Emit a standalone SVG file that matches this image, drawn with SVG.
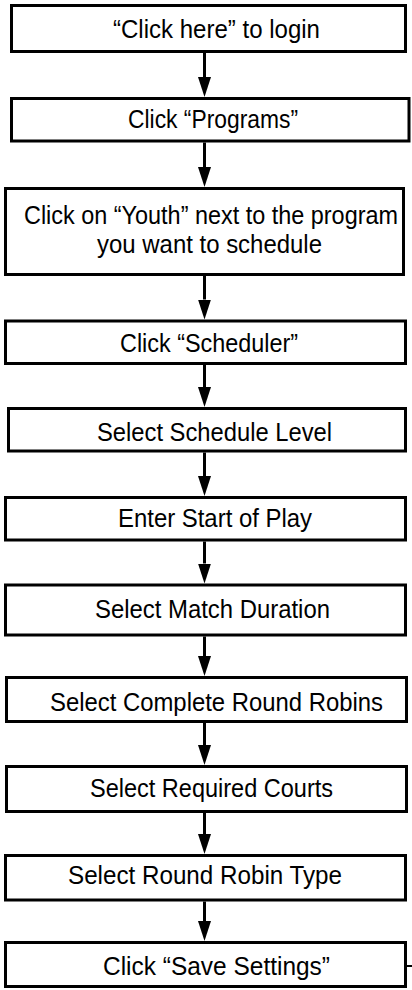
<svg xmlns="http://www.w3.org/2000/svg" width="412" height="990" viewBox="0 0 412 990">
  <defs>
    <style>
      .box { fill: #ffffff; stroke: #000000; stroke-width: 3; }
      .lbl { font-family: "Liberation Sans", Arial, sans-serif; font-size: 26px; fill: #000000; text-anchor: start; }
      .sm { font-size: 25px; }
      .conn { stroke: #000000; stroke-width: 3; fill: none; marker-end: url(#arrow); }
    </style>
    <marker id="arrow" markerUnits="userSpaceOnUse" markerWidth="20" markerHeight="13" refX="0" refY="6.5" orient="auto">
      <path d="M0,0 L20,6.5 L0,13 Z" fill="#000000"/>
    </marker>
  </defs>
  <rect width="412" height="990" fill="#ffffff"/>

  <g id="connectors">
    <line class="conn" x1="204.5" y1="53" x2="204.5" y2="77"/>
    <line class="conn" x1="204.5" y1="142.5" x2="204.5" y2="167"/>
    <line class="conn" x1="204.5" y1="276" x2="204.5" y2="299.5"/>
    <line class="conn" x1="204.5" y1="365" x2="204.5" y2="387"/>
    <line class="conn" x1="204.5" y1="452.5" x2="204.5" y2="476"/>
    <line class="conn" x1="204.5" y1="541.5" x2="204.5" y2="563.5"/>
    <line class="conn" x1="204.5" y1="636.5" x2="204.5" y2="656"/>
    <line class="conn" x1="204.5" y1="723" x2="204.5" y2="745"/>
    <line class="conn" x1="204.5" y1="813" x2="204.5" y2="834"/>
    <line class="conn" x1="204.5" y1="901.5" x2="204.5" y2="921"/>
    <line x1="405.5" y1="966" x2="412" y2="966" stroke="#000000" stroke-width="2"/>
  </g>

  <g id="n1">
    <rect class="box" x="11.5" y="5.5" width="394" height="46"/>
    <text class="lbl" x="113" y="38" textLength="207" lengthAdjust="spacingAndGlyphs">“Click here” to login</text>
  </g>
  <g id="n2">
    <rect class="box" x="11.5" y="98.5" width="397.5" height="42.5"/>
    <text class="lbl" x="128" y="128" textLength="170" lengthAdjust="spacingAndGlyphs">Click “Programs”</text>
  </g>
  <g id="n3">
    <rect class="box" x="5.5" y="188.5" width="398" height="86"/>
    <text class="lbl sm" x="24" y="224" textLength="374" lengthAdjust="spacingAndGlyphs">Click on “Youth” next to the program</text>
    <text class="lbl sm" x="97" y="253" textLength="225" lengthAdjust="spacingAndGlyphs">you want to schedule</text>
  </g>
  <g id="n4">
    <rect class="box" x="5.5" y="321" width="400" height="42.5"/>
    <text class="lbl" x="120" y="352" textLength="178" lengthAdjust="spacingAndGlyphs">Click “Scheduler”</text>
  </g>
  <g id="n5">
    <rect class="box" x="8.5" y="408.5" width="397" height="42.5"/>
    <text class="lbl" x="97" y="441" textLength="235" lengthAdjust="spacingAndGlyphs">Select Schedule Level</text>
  </g>
  <g id="n6">
    <rect class="box" x="5.5" y="497.5" width="400" height="42.5"/>
    <text class="lbl" x="118" y="527" textLength="194" lengthAdjust="spacingAndGlyphs">Enter Start of Play</text>
  </g>
  <g id="n7">
    <rect class="box" x="5.5" y="585" width="400" height="50"/>
    <text class="lbl" x="95" y="618" textLength="235" lengthAdjust="spacingAndGlyphs">Select Match Duration</text>
  </g>
  <g id="n8">
    <rect class="box" x="6.5" y="677.5" width="400" height="44"/>
    <text class="lbl" x="50" y="711" textLength="333" lengthAdjust="spacingAndGlyphs">Select Complete Round Robins</text>
  </g>
  <g id="n9">
    <rect class="box" x="6.5" y="766.5" width="400" height="45"/>
    <text class="lbl" x="90" y="797" textLength="243" lengthAdjust="spacingAndGlyphs">Select Required Courts</text>
  </g>
  <g id="n10">
    <rect class="box" x="5.5" y="855.5" width="400" height="44.5"/>
    <text class="lbl" x="68" y="884" textLength="274" lengthAdjust="spacingAndGlyphs">Select Round Robin Type</text>
  </g>
  <g id="n11">
    <rect class="box" x="5.5" y="942.5" width="400" height="44"/>
    <text class="lbl" x="103" y="975" textLength="227" lengthAdjust="spacingAndGlyphs">Click “Save Settings”</text>
  </g>
</svg>
